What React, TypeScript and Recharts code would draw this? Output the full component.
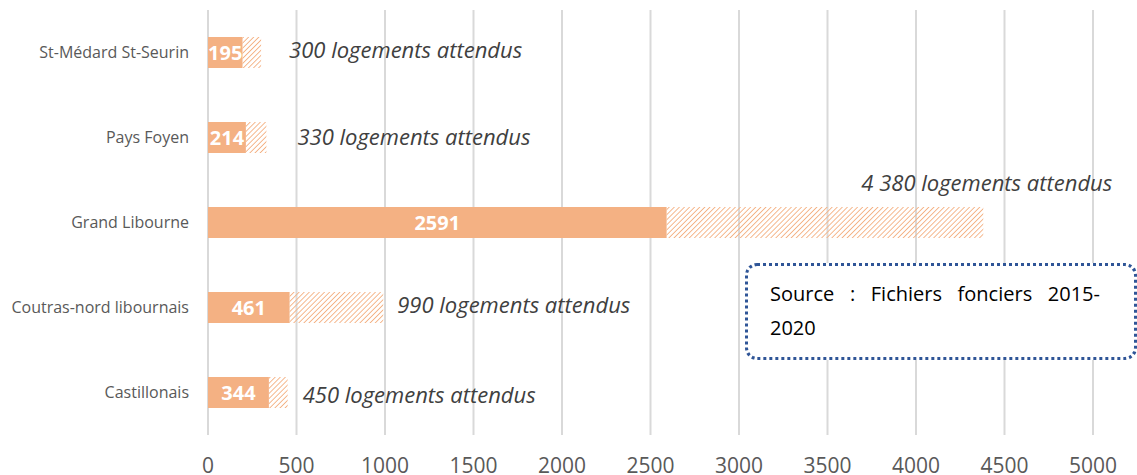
import React from 'react';
import { BarChart, Bar, XAxis, YAxis, CartesianGrid, LabelList } from 'recharts';

const categories = ['St-Médard St-Seurin', 'Pays Foyen', 'Grand Libourne', 'Coutras-nord libournais', 'Castillonais'];
const realises = [195, 214, 2591, 461, 344];
const attendus = [300, 330, 4380, 990, 450];
const attendusLabels = [
  '300 logements attendus',
  '330 logements attendus',
  '4 380 logements attendus',
  '990 logements attendus',
  '450 logements attendus',
];
const xTicks = [0, 500, 1000, 1500, 2000, 2500, 3000, 3500, 4000, 4500, 5000];
const sourceText = 'Source : Fichiers fonciers 2015-2020';

const data = categories.map((name, i) => ({
  name,
  realises: realises[i],
  reste: attendus[i] - realises[i],
}));

// label placement offsets (style, per row)
const LABEL_DX = [28, 31, 129, 14, 15];
const LABEL_DY = [-2, 0, -39, -2, 3];
const LABEL_ANCHOR = ['start', 'start', 'end', 'start', 'start'];

const ORANGE = '#F4B183';
const FONT = '"Open Sans", sans-serif';

const AttendusLabel = (props: any) => {
  const { x, y, width, height, index } = props;
  const xe = Number(x) + Number(width) + LABEL_DX[index];
  const yc = Number(y) + Number(height) / 2 + LABEL_DY[index];
  return (
    <text
      x={xe}
      y={yc}
      dy="0.35em"
      textAnchor={LABEL_ANCHOR[index] as any}
      fontFamily={FONT}
      fontStyle="italic"
      fontSize={22}
      fill="#404040"
    >
      {attendusLabels[index]}
    </text>
  );
};

export default function App() {
  return (
    <div style={{ position: 'absolute', left: 0, top: 0, width: 1137, height: 475, background: '#fff', overflow: 'hidden' }}>
      <BarChart
        width={1137}
        height={475}
        data={data}
        layout="vertical"
        margin={{ top: 10, right: 44, bottom: 0, left: 0 }}
        barCategoryGap={0}
      >
        <defs>
          <pattern id="hatch" width="3.6" height="3.6" patternUnits="userSpaceOnUse" patternTransform="rotate(45)">
            <line x1="0" y1="0" x2="0" y2="3.6" stroke={ORANGE} strokeWidth="1.8" />
          </pattern>
        </defs>
        <CartesianGrid horizontal={false} vertical={true} stroke="#D9D9D9" strokeWidth={2} />
        <XAxis
          type="number"
          domain={[0, 5000]}
          ticks={xTicks}
          axisLine={false}
          tickLine={false}
          tickSize={0}
          tickMargin={23}
          height={40}
          interval={0}
          tick={{ fill: '#595959', fontSize: 21, fontFamily: FONT }}
        />
        <YAxis
          type="category"
          dataKey="name"
          width={208}
          axisLine={false}
          tickLine={false}
          tickSize={0}
          tickMargin={19}
          interval={0}
          tick={{ fill: '#595959', fontSize: 16, fontFamily: FONT }}
        />
        <Bar dataKey="realises" stackId="a" fill={ORANGE} barSize={31} isAnimationActive={false}>
          <LabelList
            dataKey="realises"
            position="center"
            fill="#FFFFFF"
            fontSize={20}
            fontWeight="bold"
            fontFamily={FONT}
          />
        </Bar>
        <Bar dataKey="reste" stackId="a" fill="url(#hatch)" barSize={31} isAnimationActive={false}>
          <LabelList dataKey="reste" content={<AttendusLabel />} />
        </Bar>
      </BarChart>
      <div
        style={{
          position: 'absolute',
          left: 745,
          top: 263,
          width: 392,
          height: 97,
          boxSizing: 'border-box',
          border: '3px dotted #2F5597',
          borderRadius: 12,
          padding: '11px 34px 0 22px',
          fontFamily: FONT,
          fontSize: 20,
          lineHeight: '34px',
          color: '#000',
          textAlign: 'justify',
          background: '#fff',
        }}
      >
        {sourceText}
      </div>
    </div>
  );
}
